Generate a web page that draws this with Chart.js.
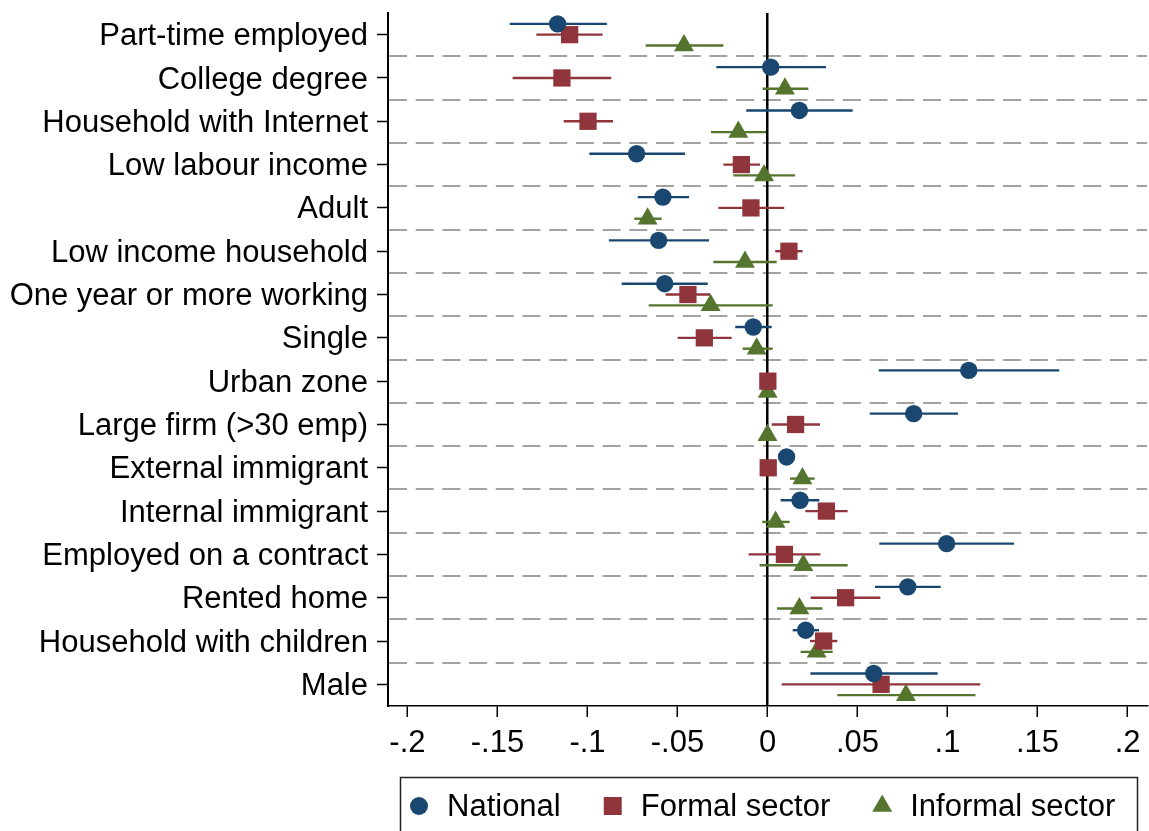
<!DOCTYPE html>
<html>
<head>
<meta charset="utf-8">
<script src="https://cdn.jsdelivr.net/npm/chart.js@4/dist/chart.umd.min.js"></script>
<style>
  html, body { margin: 0; padding: 0; background: #fff; }
  #wrap { width: 1149px; height: 831px; position: relative; }
</style>
</head>
<body>
<div id="wrap"><canvas id="c" width="1149" height="831"></canvas></div>
<script>
// Covariates, top to bottom
const categories = [
  "Part-time employed", "College degree", "Household with Internet", "Low labour income",
  "Adult", "Low income household", "One year or more working", "Single",
  "Urban zone", "Large firm (>30 emp)", "External immigrant", "Internal immigrant",
  "Employed on a contract", "Rented home", "Household with children", "Male"
];

// Point estimates and confidence bounds per sample
const nationalEst = [-0.1166, 0.0018, 0.0177, -0.0727, -0.0581, -0.0605, -0.0571, -0.0079, 0.1118, 0.0812, 0.0106, 0.0181, 0.0995, 0.0779, 0.0212, 0.0590];
const nationalLo  = [-0.1432, -0.0284, -0.0118, -0.0990, -0.0721, -0.0881, -0.0810, -0.0179, 0.0618, 0.0568, 0.0090, 0.0073, 0.0621, 0.0597, 0.0140, 0.0238];
const nationalHi  = [-0.0892, 0.0325, 0.0473, -0.0458, -0.0436, -0.0325, -0.0332, 0.0023, 0.1621, 0.1058, 0.0122, 0.0288, 0.1369, 0.0962, 0.0286, 0.0945];

const formalEst = [-0.1099, -0.1142, -0.0997, -0.0145, -0.0092, 0.0119, -0.0442, -0.0351, 0.0002, 0.0156, 0.0004, 0.0327, 0.0094, 0.0434, 0.0312, 0.0631];
const formalLo  = [-0.1284, -0.1416, -0.1132, -0.0245, -0.0273, 0.0043, -0.0566, -0.0499, -0.0010, 0.0023, -0.0008, 0.0210, -0.0105, 0.0240, 0.0236, 0.0079];
const formalHi  = [-0.0916, -0.0868, -0.0858, -0.0042, 0.0093, 0.0195, -0.0319, -0.0199, 0.0014, 0.0292, 0.0016, 0.0445, 0.0294, 0.0627, 0.0388, 0.1182];

const informalEst = [-0.0464, 0.0097, -0.0162, -0.0019, -0.0666, -0.0125, -0.0316, -0.0060, 0.0001, 0.0000, 0.0194, 0.0045, 0.0199, 0.0177, 0.0273, 0.0769];
const informalLo  = [-0.0677, -0.0027, -0.0314, -0.0190, -0.0740, -0.0301, -0.0660, -0.0138, -0.0008, -0.0008, 0.0125, -0.0029, -0.0044, 0.0053, 0.0184, 0.0388];
const informalHi  = [-0.0245, 0.0227, -0.0008, 0.0153, -0.0588, 0.0051, 0.0029, 0.0029, 0.0010, 0.0008, 0.0262, 0.0123, 0.0445, 0.0305, 0.0362, 0.1155];

const seriesNames = ["National", "Formal sector", "Informal sector"];

const xTickValues = [-0.2, -0.15, -0.1, -0.05, 0, 0.05, 0.1, 0.15, 0.2];
const xTickLabels = ["-.2", "-.15", "-.1", "-.05", "0", ".05", ".1", ".15", ".2"];

const FONT = '"Liberation Sans", Arial, sans-serif';
const NAVY = '#1a476f', MAROON = '#90353b', GREEN = '#55752f';

// each covariate occupies one unit band; the three samples sit at 1/4, 1/2, 3/4 of it
function makeSeries(label, est, lo, hi, slot, color, style, radius, legendRadius) {
  return {
    label,
    data: est.map((v, i) => ({ x: v, y: i + slot })),
    ciLo: lo, ciHi: hi,
    backgroundColor: color, borderColor: color, borderWidth: 0,
    pointStyle: style, pointRadius: radius, pointHoverRadius: radius,
    legendRadius
  };
}

const datasets = [
  makeSeries(seriesNames[0], nationalEst, nationalLo, nationalHi, 0.25, NAVY, 'circle', 8.7, 9),
  makeSeries(seriesNames[1], formalEst, formalLo, formalHi, 0.5, MAROON, 'rect', 12.2, 12.7),
  makeSeries(seriesNames[2], informalEst, informalLo, informalHi, 0.75, GREEN, 'triangle', 11.5, 11.5)
];

// dashed separators between covariate bands
const bandSeparators = {
  id: 'bandSeparators',
  beforeDraw(chart) {
    const { ctx, chartArea, scales } = chart;
    ctx.save();
    ctx.strokeStyle = '#a2a2a2';
    ctx.lineWidth = 2;
    ctx.setLineDash([18, 8.7]);
    for (let i = 1; i < categories.length; i++) {
      const y = Math.round(scales.y.getPixelForValue(i));
      ctx.beginPath();
      ctx.moveTo(chartArea.left + 1, y);
      ctx.lineTo(chartArea.right, y);
      ctx.stroke();
    }
    ctx.restore();
  }
};

// horizontal confidence intervals
const ciBars = {
  id: 'ciBars',
  beforeDatasetsDraw(chart) {
    const { ctx, scales } = chart;
    ctx.save();
    ctx.lineWidth = 2.4;
    chart.data.datasets.forEach(ds => {
      ctx.strokeStyle = ds.backgroundColor;
      ds.data.forEach((p, i) => {
        const y = scales.y.getPixelForValue(p.y);
        ctx.beginPath();
        ctx.moveTo(scales.x.getPixelForValue(ds.ciLo[i]), y);
        ctx.lineTo(scales.x.getPixelForValue(ds.ciHi[i]), y);
        ctx.stroke();
      });
    });
    ctx.restore();
  }
};

// boxed legend below the axis
const boxedLegend = {
  id: 'boxedLegend',
  afterDraw(chart) {
    const { ctx } = chart;
    ctx.save();
    ctx.strokeStyle = '#222';
    ctx.lineWidth = 1.5;
    ctx.strokeRect(400.5, 777.5, 737, 80);
    ctx.font = '31px ' + FONT;
    ctx.textBaseline = 'middle';
    ctx.textAlign = 'left';
    const cy = 806;
    let x = 419;
    chart.data.datasets.forEach(ds => {
      ctx.fillStyle = ds.backgroundColor;
      Chart.helpers.drawPoint(ctx, { pointStyle: ds.pointStyle, radius: ds.legendRadius, borderWidth: 0, rotation: 0 }, x, cy);
      ctx.fillStyle = '#000';
      const tx = x + 28;
      ctx.fillText(ds.label, tx, cy + 1);
      x = tx + ctx.measureText(ds.label).width + 52;
    });
    ctx.restore();
  }
};

new Chart(document.getElementById('c'), {
  type: 'scatter',
  data: { datasets },
  options: {
    responsive: false,
    animation: false,
    events: [],
    layout: { autoPadding: false, padding: { top: 13, right: 2, bottom: 75, left: 0 } },
    plugins: { legend: { display: false }, tooltip: { enabled: false } },
    scales: {
      x: {
        type: 'linear',
        position: 'bottom',
        min: -0.2108, max: 0.2108,
        afterBuildTicks: s => { s.ticks = xTickValues.map(v => ({ value: v })); },
        afterFit: s => { s.height = 50; s.paddingLeft = 0; s.paddingRight = 0; },
        ticks: {
          callback: (v, i) => xTickLabels[i],
          font: { family: FONT, size: 31 },
          color: '#000',
          padding: 8,
          maxRotation: 0,
          autoSkip: false
        },
        grid: {
          color: c => (c.tick && Math.abs(c.tick.value) < 1e-9) ? '#000' : 'rgba(0,0,0,0)',
          lineWidth: 2.5,
          drawTicks: true,
          tickLength: 11,
          tickColor: '#000',
          tickWidth: 1.5
        },
        border: { display: true, color: '#000', width: 1.5 }
      },
      y: {
        type: 'linear',
        position: 'left',
        reverse: true,
        min: 0, max: categories.length,
        afterBuildTicks: s => { s.ticks = categories.map((c, i) => ({ value: i + 0.5 })); },
        afterFit: s => { s.width = 388; s.paddingTop = 0; s.paddingBottom = 0; },
        ticks: {
          callback: (v, i) => categories[i],
          font: { family: FONT, size: 31 },
          color: '#000',
          padding: 9,
          labelOffset: 2,
          autoSkip: false
        },
        grid: {
          drawOnChartArea: false,
          drawTicks: true,
          tickLength: 11,
          tickColor: '#000',
          tickWidth: 1.5
        },
        border: { display: true, color: '#000', width: 2 }
      }
    }
  },
  plugins: [bandSeparators, ciBars, boxedLegend]
});
</script>
</body>
</html>
